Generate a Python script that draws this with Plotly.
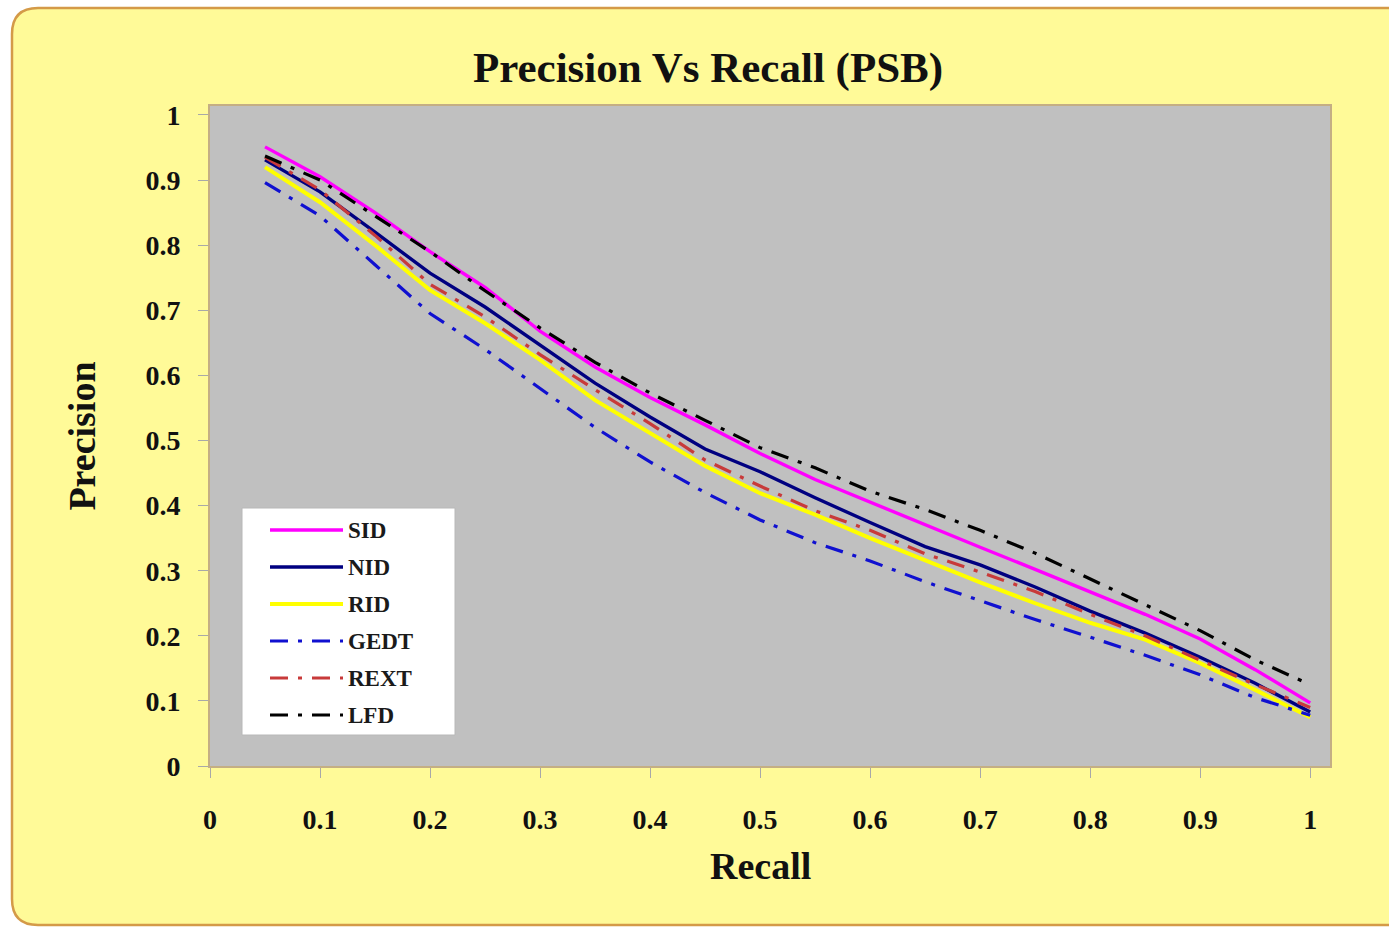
import plotly.graph_objects as go

# Recall levels (x) and precision for each descriptor
recall = [0.05, 0.10, 0.15, 0.20, 0.25, 0.30, 0.35, 0.40, 0.45, 0.50,
          0.55, 0.60, 0.65, 0.70, 0.75, 0.80, 0.85, 0.90, 0.95, 1.00]

sid = [0.951, 0.905, 0.850, 0.790, 0.735, 0.668, 0.613, 0.566, 0.524, 0.480,
       0.440, 0.405, 0.370, 0.336, 0.302, 0.267, 0.233, 0.195, 0.148, 0.097]
nid = [0.931, 0.882, 0.820, 0.757, 0.705, 0.647, 0.588, 0.536, 0.487, 0.452,
       0.412, 0.374, 0.337, 0.309, 0.275, 0.238, 0.204, 0.167, 0.127, 0.083]
rid = [0.920, 0.866, 0.800, 0.731, 0.680, 0.624, 0.562, 0.511, 0.461, 0.419,
       0.386, 0.350, 0.316, 0.282, 0.250, 0.220, 0.194, 0.158, 0.117, 0.075]
gedt = [0.896, 0.845, 0.770, 0.695, 0.640, 0.580, 0.520, 0.467, 0.420, 0.378,
        0.343, 0.315, 0.283, 0.254, 0.225, 0.198, 0.170, 0.140, 0.105, 0.078]
rext = [0.935, 0.885, 0.815, 0.740, 0.690, 0.632, 0.578, 0.526, 0.470, 0.430,
        0.392, 0.362, 0.326, 0.298, 0.268, 0.233, 0.200, 0.162, 0.125, 0.090]
lfd = [0.937, 0.900, 0.845, 0.790, 0.730, 0.673, 0.620, 0.573, 0.531, 0.489,
       0.458, 0.422, 0.394, 0.362, 0.327, 0.287, 0.248, 0.208, 0.163, 0.125]

series_names = ["SID", "NID", "RID", "GEDT", "REXT", "LFD"]
series_values = [sid, nid, rid, gedt, rext, lfd]

# line styles per series
DASHDOT = "18px,10px,4px,10px"
styles = {
    "SID": dict(color="#FF00FF", width=3.4, dash="solid"),
    "NID": dict(color="#000080", width=3.4, dash="solid"),
    "RID": dict(color="#FFFF00", width=4, dash="solid"),
    "GEDT": dict(color="#1010D0", width=3.2, dash=DASHDOT),
    "REXT": dict(color="#C83A3A", width=3.2, dash=DASHDOT),
    "LFD": dict(color="#000000", width=3.2, dash=DASHDOT),
}

W, H = 1389, 928
ML, MR, MT, MB = 210, 59, 106, 162
PW, PH = W - ML - MR, H - MT - MB

SERIF = "Liberation Serif, Times New Roman, serif"
PAPER_BG = "#FFFA98"
PLOT_BG = "#C0C0C0"
FRAME = "#D49A48"
TEXT = "#111111"


def px(x):
    """pixel column -> paper x"""
    return (x - ML) / PW


def py(y):
    """pixel row -> paper y"""
    return (H - MB - y) / PH


fig = go.Figure()
for name, vals in zip(series_names, series_values):
    fig.add_trace(go.Scatter(x=recall, y=vals, mode="lines", name=name,
                             line=styles[name], showlegend=False))

shapes = []

# white surround with a rounded frame (left, top, bottom edges)
fx0, fy0, fy1, fx1, r = 12, 8, 925, W + 40, 26
outer = (f"M{px(-5)},{py(-5)} L{px(W + 60)},{py(-5)} L{px(W + 60)},{py(H + 5)} "
         f"L{px(-5)},{py(H + 5)} Z ")
inner = (f"M{px(fx0 + r)},{py(fy0)} L{px(fx1)},{py(fy0)} L{px(fx1)},{py(fy1)} "
         f"L{px(fx0 + r)},{py(fy1)} Q{px(fx0)},{py(fy1)} {px(fx0)},{py(fy1 - r)} "
         f"L{px(fx0)},{py(fy0 + r)} Q{px(fx0)},{py(fy0)} {px(fx0 + r)},{py(fy0)} Z")
shapes.append(dict(type="path", xref="paper", yref="paper", path=outer + inner,
                   fillcolor="white", fillrule="evenodd", line=dict(width=0),
                   layer="above"))
shapes.append(dict(type="path", xref="paper", yref="paper", path=inner,
                   fillcolor="rgba(0,0,0,0)", line=dict(color=FRAME, width=2.5),
                   layer="above"))

# legend box
lx0, ly0, lx1, ly1 = 242, 508, 455, 735
shapes.append(dict(type="rect", xref="paper", yref="paper",
                   x0=px(lx0), x1=px(lx1), y0=py(ly1), y1=py(ly0),
                   fillcolor="white", line=dict(color="#B8B8B8", width=1),
                   layer="above"))

annotations = []
row0, row_step = 530, 37
for i, name in enumerate(series_names):
    yy = row0 + i * row_step
    st = styles[name]
    shapes.append(dict(type="line", xref="paper", yref="paper",
                       x0=px(270), x1=px(343), y0=py(yy), y1=py(yy),
                       line=dict(color=st["color"], width=st["width"],
                                 dash=st["dash"]),
                       layer="above"))
    annotations.append(dict(xref="paper", yref="paper", x=px(346), y=py(yy),
                            text=name, showarrow=False, xanchor="left",
                            yanchor="middle",
                            font=dict(family=SERIF, size=23, color="#1A1A1A",
                                      weight="bold")))

# x-axis title, centred under the 0..1 span
annotations.append(dict(xref="x", yref="paper", x=0.5, y=py(866),
                        text="Recall", showarrow=False, xanchor="center",
                        yanchor="middle",
                        font=dict(family=SERIF, size=38, color=TEXT,
                                  weight="bold")))

axis_common = dict(
    showgrid=False, zeroline=False, showline=True, mirror=True,
    linecolor="#C4AE84", linewidth=2,
    ticks="outside", ticklen=10, tickwidth=1, tickcolor="#A8A8A8",
    dtick=0.1, tick0=0,
    tickfont=dict(family=SERIF, size=28, color=TEXT, weight="bold"),
)

fig.update_layout(
    width=W, height=H,
    margin=dict(l=ML, r=MR, t=MT, b=MB, pad=0),
    paper_bgcolor=PAPER_BG, plot_bgcolor=PLOT_BG,
    title=dict(text="Precision Vs Recall (PSB)", x=708 / W, xanchor="center",
               y=1 - 67 / H, yanchor="middle",
               font=dict(family=SERIF, size=43, color=TEXT, weight="bold")),
    xaxis=dict(range=[0, 1.018], ticklabelstandoff=17, **axis_common),
    yaxis=dict(range=[0, 1.0138], ticklabelstandoff=12,
               title=dict(text="Precision", standoff=38,
                          font=dict(family=SERIF, size=38, color=TEXT,
                                    weight="bold")),
               **axis_common),
    shapes=shapes,
    annotations=annotations,
)

fig.write_html("out.html")
